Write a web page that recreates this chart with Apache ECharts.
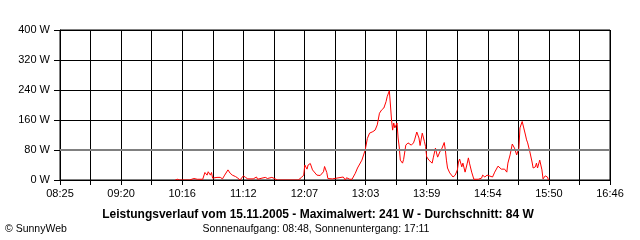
<!DOCTYPE html>
<html><head><meta charset="utf-8">
<script src="https://cdn.jsdelivr.net/npm/echarts@6/dist/echarts.min.js"></script>
<style>html,body{margin:0;padding:0;background:#fff}#c{width:640px;height:240px}</style>
</head><body><div id="c"></div>
<script>
const times = [
 "10:10","10:11","10:12","10:14","10:23","10:24","10:27","10:30","10:35","10:37",
 "10:39","10:40","10:42","10:43","10:44","10:48","10:51","10:53","10:55","10:58",
 "11:00","11:02","11:03","11:05","11:07","11:09","11:12","11:14","11:16","11:21",
 "11:24","11:25","11:29","11:32","11:34","11:38","11:41","11:43","12:02","12:05",
 "12:07","12:08","12:10","12:11","12:13","12:14","12:15","12:19","12:22","12:25",
 "12:26","12:28","12:29","12:33","12:34","12:43","12:45","12:46","12:49","12:51",
 "12:54","12:56","13:00","13:03","13:05","13:07","13:10","13:12","13:14","13:16",
 "13:18","13:20","13:22","13:23","13:25","13:26","13:27","13:28","13:29","13:30",
 "13:32","13:33","13:34","13:35","13:37","13:38","13:40","13:42","13:45","13:47",
 "13:48","13:50","13:52","13:53","13:55","13:57","13:58","13:59","14:01","14:04",
 "14:05","14:07","14:08","14:09","14:11","14:13","14:15","14:16","14:17","14:18",
 "14:20","14:23","14:25","14:27","14:28","14:29","14:31","14:32","14:34","14:36",
 "14:37","14:38","14:40","14:42","14:46","14:49","14:50","14:52","14:54","14:55",
 "14:59","15:01","15:04","15:07","15:10","15:12","15:13","15:15","15:17","15:18",
 "15:19","15:21","15:23","15:24","15:26","15:27","15:29","15:30","15:31","15:33",
 "15:35","15:36","15:38","15:39","15:40","15:42","15:44","15:45","15:47","15:49",
 "15:50"
];
const watts = [
 0,2,2,0,0,2,4,2,2,20,
 13,22,13,20,5,7,7,3,13,27,
 18,13,16,9,5,0,11,7,3,3,
 8,2,5,7,4,7,3,0,0,7,
 13,40,29,40,44,40,27,13,12,22,
 36,20,4,3,0,8,0,6,2,2,
 18,32,53,80,111,125,129,133,147,178,
 187,192,209,222,238,200,160,133,152,139,
 152,112,88,53,45,55,93,99,93,99,
 107,128,112,92,125,102,89,62,53,45,
 59,85,72,61,75,85,100,80,53,32,
 19,8,13,27,48,56,35,45,21,45,
 59,45,21,2,2,5,13,8,13,8,
 8,21,37,29,29,21,45,67,96,96,
 85,67,85,139,156,156,120,107,99,75,
 48,32,35,45,32,53,27,3,11,8,
 0
];
const xTickLabels = ["08:25","09:20","10:16","11:12","12:07","13:03","13:59","14:54","15:50","16:46"];
const yMax = 400, yStep = 80;
const axisStart = "08:25", axisEnd = "16:46";
const titleText = "Leistungsverlauf vom 15.11.2005 - Maximalwert: 241 W - Durchschnitt: 84 W";
const subText = "Sonnenaufgang: 08:48, Sonnenuntergang: 17:11";
const creditText = "\u00A9 SunnyWeb";

function toMin(t){const p=t.split(':').map(Number);return p[0]*60+p[1];}
const slots = (xTickLabels.length-1)*2;
const s0 = toMin(axisStart), s1 = toMin(axisEnd);
const data = times.map((t,i)=>[(toMin(t)-s0)*slots/(s1-s0), watts[i]]);

const FONT = 'Liberation Sans';
const chart = echarts.init(document.getElementById('c'), null, {renderer:'canvas'});
chart.setOption({
  animation:false,
  backgroundColor:'#fff',
  grid:{left:60,right:30,top:30,bottom:60,show:true,borderColor:'#000',borderWidth:1,backgroundColor:'transparent'},
  xAxis:{type:'value',min:0,max:slots,interval:1,
    axisLine:{show:true,lineStyle:{color:'#000',width:1}},
    axisTick:{show:true,length:5,lineStyle:{color:'#000',width:1}},
    axisLabel:{color:'#000',fontFamily:FONT,fontSize:11,margin:8,showMinLabel:true,showMaxLabel:true,
      formatter:function(v){const k=Math.round(v);return k%2===0?xTickLabels[k/2]:'';}},
    splitLine:{show:true,lineStyle:{color:'#000',width:1}}},
  yAxis:{type:'value',min:0,max:yMax,interval:yStep,
    axisLine:{show:true,lineStyle:{color:'#000',width:1}},
    axisTick:{show:true,length:6,lineStyle:{color:'#000',width:1}},
    axisLabel:{color:'#000',fontFamily:FONT,fontSize:11,margin:10,formatter:'{value} W'},
    splitLine:{show:true,lineStyle:{color:'#000',width:1}}},
  series:[
    {type:'line',data:data,showSymbol:false,symbol:'none',z:2,
     lineStyle:{color:'#ff0000',width:1},itemStyle:{color:'#ff0000'}},
    {type:'line',data:[],z:5,silent:true,
     markLine:{silent:true,symbol:'none',animation:false,label:{show:false},
       data:[
         {yAxis:yStep,lineStyle:{color:'#808080',width:2,type:'solid'}},
         {yAxis:0,lineStyle:{color:'#000',width:1,type:'solid'}}
       ]}}
  ],
  graphic:[
    {type:'text',x:318,y:215,style:{text:titleText,fill:'#000',font:'bold 12px '+FONT,textAlign:'center',textVerticalAlign:'middle'}},
    {type:'text',x:316,y:229,style:{text:subText,fill:'#000',font:'10.5px '+FONT,textAlign:'center',textVerticalAlign:'middle'}},
    {type:'text',x:5,y:229,style:{text:creditText,fill:'#000',font:'10.5px '+FONT,textAlign:'left',textVerticalAlign:'middle'}}
  ]
});
</script></body></html>
